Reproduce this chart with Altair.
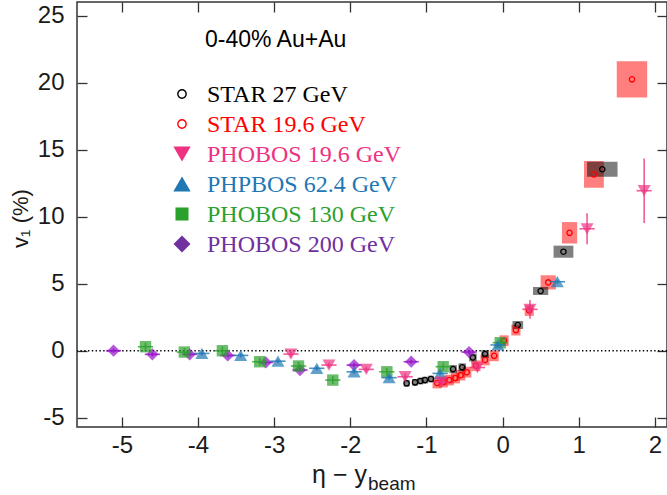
import altair as alt
import pandas as pd

# ---------------- data ----------------
star27_x = [-1.26, -1.15, -1.08, -1.02, -0.94, -0.65, -0.53, -0.39, -0.23, 0.20, 0.50, 0.80, 1.31]
star27_y = [-2.43, -2.36, -2.26, -2.19, -2.11, -1.37, -1.24, -0.50, -0.25, 1.92, 4.46, 7.39, 13.54]
star27_sx = [0.04, 0.04, 0.04, 0.04, 0.04, 0.05, 0.05, 0.05, 0.05, 0.07, 0.10, 0.13, 0.20]
star27_sy = [0.25, 0.25, 0.25, 0.25, 0.25, 0.3, 0.3, 0.3, 0.3, 0.3, 0.3, 0.45, 0.56]

star19_x = [-0.86, -0.78, -0.70, -0.62, -0.55, -0.47, -0.35, -0.23, -0.11, 0.02, 0.175, 0.35, 0.60, 0.88, 1.20, 1.70]
star19_y = [-2.41, -2.34, -2.19, -2.04, -1.82, -1.60, -1.12, -0.69, -0.38, 0.75, 1.54, 3.00, 5.10, 8.80, 13.16, 20.25]
star19_sx = [0.06] * 12 + [0.10, 0.10, 0.13, 0.20]
star19_sy = [0.4] * 12 + [0.53, 0.80, 1.00, 1.35]

ph196_x = [-2.78, -2.28, -1.79, -1.28, -0.80, -0.33, 0.36, 1.11, 1.86]
ph196_y = [-0.25, -1.07, -1.39, -1.94, -2.35, -1.25, 3.09, 9.10, 11.94]
ph196_e = [0.2, 0.2, 0.2, 0.25, 0.3, 0.3, 0.7, 1.15, 2.4]

ph624_x = [-3.95, -3.44, -2.95, -2.44, -1.95, -1.49, -0.82, -0.06, 0.72]
ph624_y = [-0.20, -0.35, -0.78, -1.31, -1.57, -2.01, -1.69, 0.43, 5.15]
ph624_e = [0.15] * 9

ph130_x = [-4.69, -4.18, -3.68, -3.19, -2.68, -2.23, -1.52, -0.78, -0.03]
ph130_y = [0.30, -0.10, 0.00, -0.82, -1.14, -2.19, -1.57, -1.19, 0.60]
ph130_e = [0.3] * 9

ph200_x = [-5.11, -4.60, -4.11, -3.61, -3.11, -2.66, -1.95, -1.20, -0.44]
ph200_y = [0.00, -0.27, -0.27, -0.35, -0.87, -1.44, -1.07, -0.82, -0.10]
ph200_e = [0.15] * 9

phobos_xerr = 0.1

series_names = ["STAR 27 GeV", "STAR 19.6 GeV", "PHOBOS 19.6 GeV", "PHPBOS 62.4 GeV",
                "PHOBOS 130 GeV", "PHOBOS 200 GeV"]
legend_colors = ["#000000", "#ff0000", "#ee3282", "#1f77b4", "#2ca02c", "#7030a0"]
legend_shapes = ["circle", "circle", "triangle-down", "triangle-up", "square", "diamond"]
legend_sizes = [70, 70, 300, 300, 170, 290]
legend_filled = [False, False, True, True, True, True]

x_ticks = [-5, -4, -3, -2, -1, 0, 1, 2]
y_ticks = [-5, 0, 5, 10, 15, 20, 25]

# ---------------- layout ----------------
W, H = 590, 425
SANS = "Liberation Sans"
SERIF = "Liberation Serif"

xs = alt.Scale(domain=[-5.59, 2.16], nice=False, zero=False)
ys = alt.Scale(domain=[-5.69, 26.02], nice=False, zero=False)

x_lab_axis = alt.Axis(orient="bottom", values=x_ticks, ticks=False, domain=False, grid=False,
                      labelFont=SANS, labelFontSize=24, labelColor="#1a1a1a", labelPadding=6,
                      labelExpr="'' + datum.value", title=None)
y_lab_axis = alt.Axis(orient="left", values=y_ticks, ticks=False, domain=False, grid=False,
                      labelFont=SANS, labelFontSize=24, labelColor="#1a1a1a", labelPadding=13,
                      labelExpr="'' + datum.value",
                      title="v\u2081 (%)", titleFont=SANS, titleFontSize=22, titleFontWeight="normal",
                      titleColor="#1a1a1a", titleX=-57, titleY=216, titleAlign="center",
                      titleBaseline="middle", titleAngle=270)


def tick_axis(orient, offset, values):
    return alt.Axis(orient=orient, offset=offset, values=values, labels=False, domain=False,
                    grid=False, ticks=True, tickSize=10, tickColor="#333333", tickWidth=1.3,
                    title=None)


x_tick_bottom = tick_axis("top", -H, x_ticks)
x_tick_top = tick_axis("bottom", -H, x_ticks)
y_tick_left = tick_axis("right", -W, y_ticks)
y_tick_right = tick_axis("left", -W, y_ticks)


def star_boxes(x, y, sx, sy, color, xaxis=None, yaxis=None):
    df = pd.DataFrame({"x": x, "y": y, "sx": sx, "sy": sy})
    xa = dict(scale=xs, axis=xaxis)
    ya = dict(scale=ys, axis=yaxis)
    return alt.Chart(df).transform_calculate(
        x1="datum.x - datum.sx", x2="datum.x + datum.sx",
        y1="datum.y - datum.sy", y2="datum.y + datum.sy"
    ).mark_rect(color=color, opacity=0.5).encode(
        x=alt.X("x1:Q", **xa), x2="x2:Q",
        y=alt.Y("y1:Q", **ya), y2="y2:Q")


def star_points(x, y, color, xaxis=None, yaxis=None):
    df = pd.DataFrame({"x": x, "y": y})
    return alt.Chart(df).mark_point(shape="circle", filled=False, color=color, size=28,
                                    strokeWidth=1.3, opacity=1).encode(
        x=alt.X("x:Q", scale=xs, axis=xaxis), y=alt.Y("y:Q", scale=ys, axis=yaxis))


def phobos(x, y, e, color, shape, size):
    df = pd.DataFrame({"x": x, "y": y, "e": e})
    base = alt.Chart(df).transform_calculate(
        xl=f"datum.x - {phobos_xerr}", xh=f"datum.x + {phobos_xerr}",
        yl="datum.y - datum.e", yh="datum.y + datum.e")
    hbar = base.mark_rule(color=color, strokeWidth=1.6, opacity=0.8).encode(
        x=alt.X("xl:Q", scale=xs, axis=None), x2="xh:Q",
        y=alt.Y("y:Q", scale=ys, axis=None))
    vbar = base.mark_rule(color=color, strokeWidth=1.6, opacity=0.8).encode(
        x=alt.X("x:Q", scale=xs, axis=None),
        y=alt.Y("yl:Q", scale=ys, axis=None), y2="yh:Q")
    pts = base.mark_point(shape=shape, filled=True, color=color, size=size, opacity=0.7).encode(
        x=alt.X("x:Q", scale=xs, axis=None), y=alt.Y("y:Q", scale=ys, axis=None))
    return [hbar, vbar, pts]


layers = []
# dotted zero line
layers.append(alt.Chart(pd.DataFrame({"z": [0]})).mark_rule(
    color="black", strokeDash=[1.4, 2.4], strokeWidth=1.4).encode(
    y=alt.Y("z:Q", scale=ys, axis=None)))

layers.append(star_boxes(star19_x, star19_y, star19_sx, star19_sy, "#ff0000",
                         x_lab_axis, y_lab_axis))
layers.append(star_boxes(star27_x, star27_y, star27_sx, star27_sy, "#000000",
                         x_tick_bottom, y_tick_left))
layers.append(star_points(star27_x, star27_y, "#000000", x_tick_top, y_tick_right))
layers.append(star_points(star19_x, star19_y, "#ff0000"))

layers += phobos(ph200_x, ph200_y, ph200_e, "#9410c8", "diamond", 150)
layers += phobos(ph130_x, ph130_y, ph130_e, "#2ca02c", "square", 130)
layers += phobos(ph624_x, ph624_y, ph624_e, "#1f77b4", "triangle-up", 170)
layers += phobos(ph196_x, ph196_y, ph196_e, "#ee3282", "triangle-down", 170)

# legend / annotation
layers.append(alt.Chart(pd.DataFrame({"t": ["0-40% Au+Au"]})).mark_text(
    align="left", baseline="middle", font=SANS, fontSize=23, color="black").encode(
    x=alt.value(128), y=alt.value(38), text="t:N"))

for i, name in enumerate(series_names):
    df = pd.DataFrame({"n": [name]})
    yy = 92 + 30 * i
    layers.append(alt.Chart(df).mark_point(
        shape=legend_shapes[i], size=legend_sizes[i], filled=legend_filled[i],
        color=legend_colors[i], opacity=1, strokeWidth=1.4).encode(
        x=alt.value(105), y=alt.value(yy)))
    layers.append(alt.Chart(df).mark_text(
        align="left", baseline="middle", font=SERIF, fontSize=24, color=legend_colors[i]).encode(
        x=alt.value(130), y=alt.value(yy + 1), text="n:N"))

# x axis title: eta - y_beam
layers.append(alt.Chart(pd.DataFrame({"t": ["\u03b7 \u2212 y"]})).mark_text(
    align="right", baseline="alphabetic", font=SANS, fontSize=25, color="#1a1a1a").encode(
    x=alt.value(290), y=alt.value(481), text="t:N"))
layers.append(alt.Chart(pd.DataFrame({"t": ["beam"]})).mark_text(
    align="left", baseline="alphabetic", font=SANS, fontSize=19, color="#1a1a1a").encode(
    x=alt.value(291), y=alt.value(488), text="t:N"))

chart = alt.layer(*layers).resolve_axis(x="independent", y="independent").properties(
    width=W, height=H,
    padding={"left": 77, "top": 2, "right": 0, "bottom": 68},
    autosize=alt.AutoSizeParams(type="none"),
).configure_view(stroke="#333333", strokeWidth=1.5)

chart.save("out.html", embed_options={"renderer": "svg", "actions": False})
